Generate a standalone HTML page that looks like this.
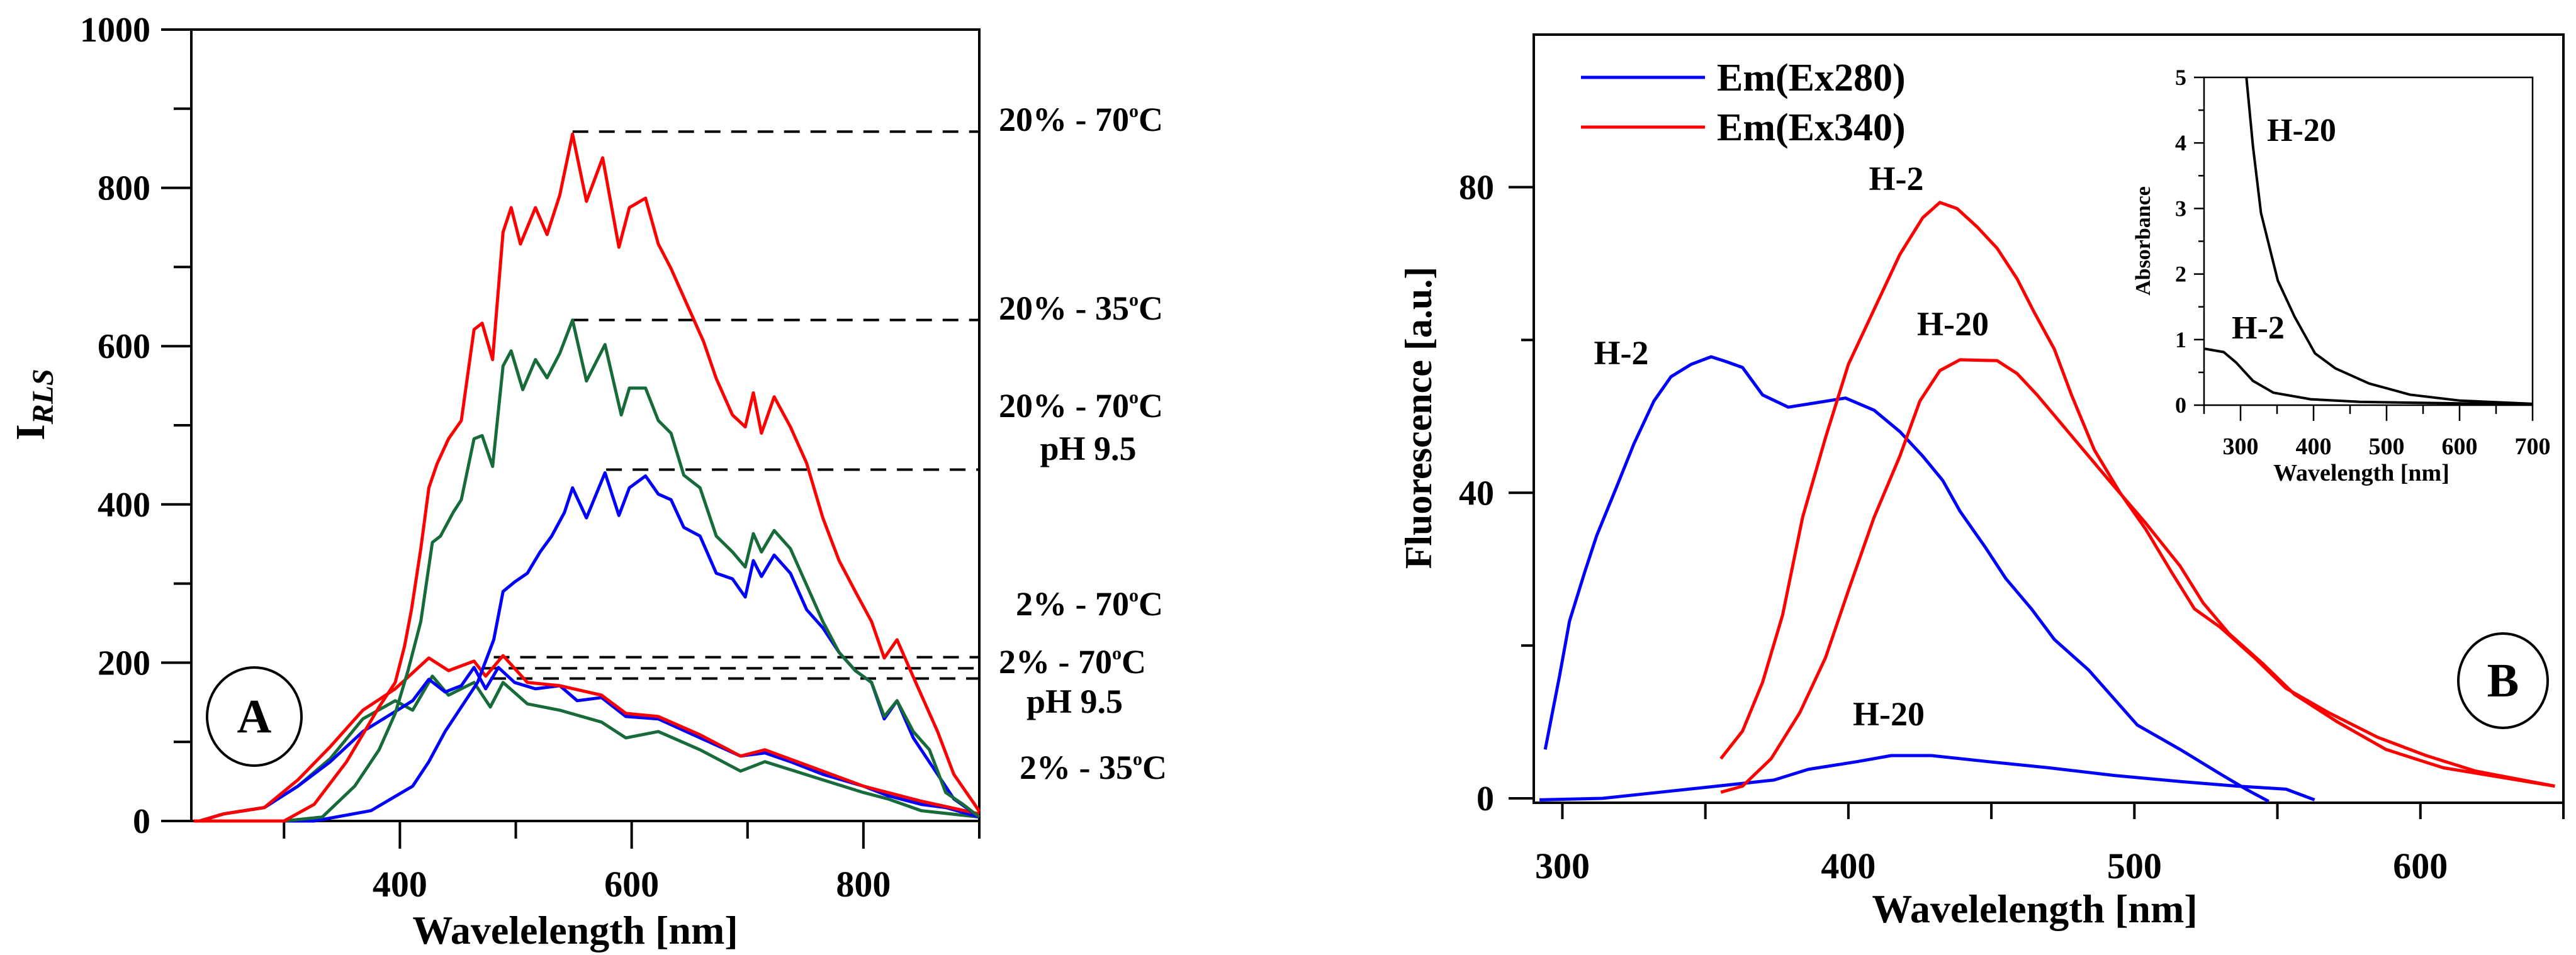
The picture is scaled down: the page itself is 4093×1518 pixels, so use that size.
<!DOCTYPE html>
<html><head><meta charset="utf-8">
<style>
html,body{margin:0;padding:0;background:#fff;}
svg{display:block;}
text{font-family:"Liberation Serif","DejaVu Serif",serif;font-weight:bold;fill:#000;}
</style></head>
<body>
<svg id="fig" width="4093" height="1518" viewBox="0 0 4093 1518" xmlns="http://www.w3.org/2000/svg">
<g id="panelA"></g>
<g id="panelB"></g>
</svg>
<script>
// ---------- Panel A data ----------
const aRed20Wl = [222,300,326,354,382,396,404,410,418,425,432,442,453,464,471,480,489,496,504,517,527,538,549,561,575,589,598,612,623,634,648,662,673,687,698,705,712,723,737,751,765,779,793,807,818,829,843,864,878,896,900];
const aRed20 = [0,0,21,75,144,175,221,267,344,421,451,483,506,621,629,583,744,775,729,775,741,791,868,783,838,725,775,787,729,698,652,606,559,513,498,541,490,536,498,452,383,329,290,252,206,229,182,113,59,21,12];
const aGreen20Wl = [222,300,333,361,382,396,407,418,428,435,446,453,464,471,480,489,496,506,517,527,538,549,561,577,591,598,612,623,634,645,659,673,687,698,705,712,723,737,751,765,779,793,807,818,829,843,857,871,886,900];
const aGreen20 = [0,0,5,44,90,136,190,252,352,360,390,406,483,487,448,575,594,545,583,560,591,633,556,602,513,547,547,506,490,437,421,360,340,321,363,340,367,344,298,252,213,190,175,132,152,113,90,36,21,5];
const aBlue20Wl = [222,326,375,411,425,439,453,467,481,489,499,510,521,531,542,549,561,577,589,598,612,623,634,645,659,673,687,698,705,712,723,737,751,765,779,793,807,818,829,843,864,878,900];
const aBlue20 = [0,0,13,44,75,113,144,175,229,290,302,313,340,360,390,421,383,440,386,421,436,413,406,371,360,313,306,283,329,309,336,313,267,244,213,190,175,129,152,105,59,28,5];
const aBlue2Wl = [227,248,283,312,340,368,389,411,425,439,453,464,474,485,499,517,538,553,574,595,623,659,694,715,737,765,800,821,850,871,900];
const aBlue2 = [0,9,17,44,75,113,132,152,179,163,171,194,167,194,175,167,171,152,156,132,129,105,82,86,75,59,44,32,21,17,5];
const aRed2Wl = [227,248,283,312,340,368,396,425,442,464,474,489,510,538,574,595,623,659,694,715,765,800,821,850,900];
const aRed2 = [0,9,17,52,94,140,167,206,190,202,183,209,175,171,159,136,132,109,82,90,63,44,36,25,9];
const aGreen2Wl = [227,248,283,312,340,368,396,411,428,442,464,478,489,510,538,574,595,623,659,694,715,765,800,821,850,900];
const aGreen2 = [0,9,17,44,79,129,152,140,183,159,175,144,175,148,140,125,105,113,90,63,75,52,36,28,13,5];
const aDashY = [871,633,444,207,193,180];
const aDashX = [549,549,578,481,471,478];
const aYTicks = [0,200,400,600,800,1000];
const aXTicks = [400,600,800];

// ---------- Panel B data ----------
const bBlueH2Wl = [294,299,302.5,307.8,312,319,325,332,338,345,352,357,363,370,379,389,399,409,418,426,433,439,448,455,464,472,484,501,516,530,539,547];
const bBlueH2 = [6.4,16,23.2,29.6,34.4,40.8,46.4,52,55.2,56.8,57.8,57.2,56.4,52.8,51.2,51.8,52.4,50.8,48,44.8,41.6,37.6,32.8,28.8,24.8,20.8,16.8,9.6,6.4,3.2,1.2,-0.4];
const bBlueH20Wl = [292,314,334,354,374,386,403,415,429,449,470,493,516,536,553,563];
const bBlueH20 = [-0.2,0,0.8,1.6,2.4,3.8,4.8,5.6,5.6,4.8,4,3,2.2,1.6,1.2,-0.2];
const bRedH2Wl = [355.4,363,370,377,384,392,400,409,418,426,432,438,445,452,459,465,472,478,486,495,504,513,521,530,542,553,568,585,602,619,647];
const bRedH2 = [5.2,8.8,15.2,24,36.8,47.2,56.8,64,71.2,76,78,77.2,74.8,72,68,63.6,58.8,52.8,45.6,40,35.2,29.6,24.8,22.4,18.4,14.4,11.2,8,5.6,3.6,1.6];
const bRedH20Wl = [355.4,363,373,383,392,400,409,418,425,432,439,452,459,466,475,484,493,504,516,524,533,545,556,571,588,608,647];
const bRedH20 = [0.8,1.6,5.2,11.2,18.4,27.2,36.8,44.8,52,56,57.4,57.3,55.6,52.8,48.8,44.8,40.8,36,30.4,25.6,21.6,17.6,13.6,10,6.4,4,1.6];
const insH20Wl = [308,317,328,351,374,402,430,476,532,600,700];
const insH20 = [5,3.95,2.93,1.9,1.35,0.79,0.56,0.33,0.16,0.07,0.02];
const insH2Wl = [251,277,294,317,345,396,464,700];
const insH2 = [0.86,0.81,0.65,0.37,0.19,0.09,0.05,0.01];
const bYTicks = [0,40,80];
const bXTicks = [300,400,500,600];
const insYTicks = [0,1,2,3,4,5];
const insXTicks = [300,400,500,600,700];

const NS = "http://www.w3.org/2000/svg";
function mk(parent, tag, attrs, txt){
  const e = document.createElementNS(NS, tag);
  for (const k in attrs) e.setAttribute(k, attrs[k]);
  if (txt !== undefined) e.textContent = txt;
  parent.appendChild(e);
  return e;
}
function lin(d0,d1,r0,r1){ return v => r0 + (v-d0)/(d1-d0)*(r1-r0); }
function pathD(xs, ys, sx, sy){ return xs.map((x,i)=>(i?'L':'M')+sx(x).toFixed(1)+','+sy(ys[i]).toFixed(1)).join(' '); }

// ---------- Panel A ----------
const A = document.getElementById('panelA');
const axL=304, axR=1556, axT=47, axB=1305;
const ax = lin(220,900,axL,axR), ay = lin(0,1000,axB,axT);
let e;
e = mk(A,'path',{d:`M${axL},${axT} L${axR},${axT} L${axR},${axB} L${axL},${axB} Z`,fill:'none',stroke:'#000','stroke-width':4});
 
for (let v=0; v<=1000; v+=100){
  const major = v%200===0;
  e = mk(A,'line',{x1:axL-(major?48:28),x2:axL,y1:ay(v),y2:ay(v),stroke:'#000','stroke-width':4});
   
}
aYTicks.forEach(v=>{
  e = mk(A,'text',{x:239,y:ay(v)+19,'font-size':56,'text-anchor':'end'},String(v));
   
});
for (let v=300; v<=900; v+=100){
  const major = v%200===0;
  e = mk(A,'line',{x1:ax(v),x2:ax(v),y1:axB,y2:axB+(major?44:28),stroke:'#000','stroke-width':4});
   
}
aXTicks.forEach(v=>{
  e = mk(A,'text',{x:ax(v),y:1425,'font-size':58,'text-anchor':'middle'},String(v));
   
});
e = mk(A,'text',{x:914,y:1500,'font-size':64,'text-anchor':'middle'},'Wavelelength [nm]');
 
e = mk(A,'text',{transform:'translate(70,700) rotate(-90)','font-size':66},'I');
 
mk(e,'tspan',{'font-size':48,'font-style':'italic',dy:14},'RLS');

// dashed lines
aDashY.forEach((v,i)=>{
  e = mk(A,'line',{x1:ax(aDashX[i]),x2:axR,y1:ay(v),y2:ay(v),stroke:'#000','stroke-width':4,'stroke-dasharray':'25 17'});
   
});
const series = [
  [aGreen2Wl,aGreen2,'#176b3a','series-2pct-35c'],
  [aBlue2Wl,aBlue2,'#0000ff','series-2pct-70c-ph95'],
  [aRed2Wl,aRed2,'#ff0000','series-2pct-70c'],
  [aBlue20Wl,aBlue20,'#0000ff','series-20pct-70c-ph95'],
  [aGreen20Wl,aGreen20,'#176b3a','series-20pct-35c'],
  [aRed20Wl,aRed20,'#ff0000','series-20pct-70c']
];
series.forEach(s=>{
  e = mk(A,'path',{d:pathD(s[0],s[1],ax,ay),fill:'none',stroke:s[2],'stroke-width':5,'stroke-linejoin':'round'});
   
});
const labsA = [
  [1587,208,'start','20% - 70','C'],
  [1587,508,'start','20% - 35','C'],
  [1587,663,'start','20% - 70','C'],
  [1614,978,'start','2% - 70','C'],
  [1587,1070,'start','2% - 70','C'],
  [1620,1238,'start','2% - 35','C']
];
labsA.forEach(l=>{
  e = mk(A,'text',{x:l[0],y:l[1],'font-size':54,'text-anchor':l[2]},l[3]);
   
  mk(e,'tspan',{'font-size':30,dy:-22},'o');
  mk(e,'tspan',{dy:22},l[4]);
});
e = mk(A,'text',{x:1729,y:731,'font-size':54,'text-anchor':'middle'},'pH 9.5');
 
e = mk(A,'text',{x:1631,y:1133,'font-size':54},'pH 9.5');
 
e = mk(A,'ellipse',{cx:404,cy:1139,rx:75,ry:78,fill:'none',stroke:'#000','stroke-width':4});
 
e = mk(A,'text',{x:404,y:1164,'font-size':76,'text-anchor':'middle'},'A');
 

// ---------- Panel B ----------
const B = document.getElementById('panelB');
const bL=2437, bR=4073, bT=55, bB=1276;
const bx = lin(290,650,bL,bR), by = lin(0,80,1269,297.5);
e = mk(B,'path',{d:`M${bL},${bT} L${bR},${bT} L${bR},${bB} L${bL},${bB} Z`,fill:'none',stroke:'#000','stroke-width':4});
 
for (let v=0; v<=80; v+=20){
  e = mk(B,'line',{x1:bL-(v%40===0?40:20),x2:bL,y1:by(v),y2:by(v),stroke:'#000','stroke-width':4});
   
}
bYTicks.forEach(v=>{
  e = mk(B,'text',{x:2374,y:by(v)+19,'font-size':56,'text-anchor':'end'},String(v));
   
});
for (let v=300; v<=650; v+=50){
  e = mk(B,'line',{x1:bx(v),x2:bx(v),y1:bB,y2:bB+26,stroke:'#000','stroke-width':4});
   
}
bXTicks.forEach(v=>{
  e = mk(B,'text',{x:bx(v),y:1396,'font-size':58,'text-anchor':'middle'},String(v));
   
});
e = mk(B,'text',{x:3233,y:1466,'font-size':64,'text-anchor':'middle'},'Wavelelength [nm]');
 
e = mk(B,'text',{transform:'translate(2274,664) rotate(-90)','font-size':60,'text-anchor':'middle'},'Fluorescence [a.u.]');
 
[[bBlueH20Wl,bBlueH20,'#0000ff','em-ex280-h20'],[bBlueH2Wl,bBlueH2,'#0000ff','em-ex280-h2'],
 [bRedH20Wl,bRedH20,'#ff0000','em-ex340-h20'],[bRedH2Wl,bRedH2,'#ff0000','em-ex340-h2']].forEach(s=>{
  e = mk(B,'path',{d:pathD(s[0],s[1],bx,by),fill:'none',stroke:s[2],'stroke-width':5,'stroke-linejoin':'round'});
   
});
// legend
e = mk(B,'line',{x1:2512,x2:2709,y1:123,y2:123,stroke:'#0000ff','stroke-width':5});
 
e = mk(B,'text',{x:2728,y:144,'font-size':62},'Em(Ex280)');
 
e = mk(B,'line',{x1:2512,x2:2709,y1:202,y2:202,stroke:'#ff0000','stroke-width':5});
 
e = mk(B,'text',{x:2728,y:223,'font-size':62},'Em(Ex340)');
 
[[2576,579,'H-2'],[3013,302,'H-2'],[3103,533,'H-20'],[3001,1153,'H-20']].forEach(l=>{
  e = mk(B,'text',{x:l[0],y:l[1],'font-size':54,'text-anchor':'middle'},l[2]);
   
});
e = mk(B,'ellipse',{cx:3977,cy:1082,rx:71,ry:75,fill:'none',stroke:'#000','stroke-width':4});
 
e = mk(B,'text',{x:3977,y:1107,'font-size':76,'text-anchor':'middle'},'B');
 

// inset
const iL=3502, iR=4024, iT=123, iB=644;
const ix = lin(250,700,iL,iR), iy = lin(0,5,iB,iT);
e = mk(B,'path',{d:`M${iL},${iT} L${iR},${iT} L${iR},${iB} L${iL},${iB} Z`,fill:'none',stroke:'#000','stroke-width':2.5});
 
for (let v=0; v<=5; v+=0.5){
  e = mk(B,'line',{x1:iL-(v%1===0?16:9),x2:iL,y1:iy(v),y2:iy(v),stroke:'#000','stroke-width':2.5});
   
}
insYTicks.forEach(v=>{
  e = mk(B,'text',{x:3474,y:iy(v)+12,'font-size':36,'text-anchor':'end'},String(v));
   
});
for (let v=250; v<=700; v+=50){
  e = mk(B,'line',{x1:ix(v),x2:ix(v),y1:iB,y2:iB+(v%100===0?25:14),stroke:'#000','stroke-width':2.5});
   
}
insXTicks.forEach(v=>{
  e = mk(B,'text',{x:ix(v),y:722,'font-size':38,'text-anchor':'middle'},String(v));
   
});
e = mk(B,'text',{x:3752,y:764,'font-size':38,'text-anchor':'middle'},'Wavelength [nm]');
 
e = mk(B,'text',{transform:'translate(3416,383) rotate(-90)','font-size':34,'text-anchor':'middle'},'Absorbance');
 
[[insH20Wl,insH20,'inset-h20'],[insH2Wl,insH2,'inset-h2']].forEach(s=>{
  e = mk(B,'path',{d:pathD(s[0],s[1],ix,iy),fill:'none',stroke:'#000','stroke-width':4,'stroke-linejoin':'round'});
   
});
e = mk(B,'text',{x:3657,y:224,'font-size':52,'text-anchor':'middle'},'H-20');
 
e = mk(B,'text',{x:3588,y:538,'font-size':52,'text-anchor':'middle'},'H-2');
 
</script>
</body></html>
